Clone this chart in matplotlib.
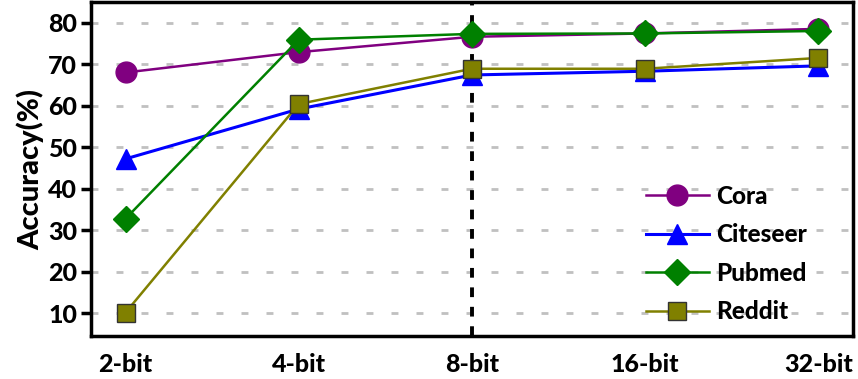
import matplotlib.pyplot as plt

plt.rcParams['font.family'] = ['Lato', 'DejaVu Sans']
plt.rcParams['font.weight'] = 'black'

bits = ['2-bit', '4-bit', '8-bit', '16-bit', '32-bit']
cora = [68.0, 72.9, 76.6, 77.4, 78.5]
citeseer = [47.2, 59.2, 67.4, 68.3, 69.6]
pubmed = [32.8, 75.9, 77.3, 77.4, 78.0]
reddit = [10.2, 60.4, 68.9, 68.9, 71.5]
yticks = [10, 20, 30, 40, 50, 60, 70, 80]

x = list(range(len(bits)))

fig = plt.figure(figsize=(8.58, 3.79), dpi=100)
ax = fig.add_axes([0.106, 0.113, 0.888, 0.882])

# dashed grid and the 8-bit marker line
for y in yticks:
    ax.axhline(y, color='#c0c0c0', lw=2, ls=(0, (2.5, 6.5)), zorder=0)
ax.axvline(2, color='black', lw=2.8, ls=(0, (2.5, 2.5)), zorder=1)

ax.plot(x, cora, color='#800080', lw=1.8, marker='o', ms=15, label='Cora', zorder=3)
ax.plot(x, citeseer, color='#0000ff', lw=2.2, marker='^', ms=15, label='Citeseer', zorder=3)
ax.plot(x, pubmed, color='#008000', lw=1.8, marker='D', ms=13, label='Pubmed', zorder=4)
ax.plot(x, reddit, color='#808000', lw=1.8, marker='s', ms=13, mec='#333333', mew=1,
        label='Reddit', zorder=5)

ax.set_xlim(-0.2, 4.2)
ax.set_ylim(4.5, 85)
ax.set_xticks(x)
ax.set_xticklabels(bits)
ax.set_yticks(yticks)
ax.tick_params(axis='x', length=0, pad=12, labelsize=18)
ax.tick_params(axis='y', length=7, width=2.5, labelsize=18, pad=3)
ax.set_ylabel('Accuracy(%)', fontsize=21, fontweight='black', labelpad=3)
for s in ax.spines.values():
    s.set_linewidth(2.5)

ax.legend(loc='lower right', frameon=False, fontsize=17.5, handlelength=2.6,
          labelspacing=0.64, handletextpad=0.3, borderaxespad=0.3,
          bbox_to_anchor=(0.962, -0.012))

fig.savefig('out.png', dpi=100)
